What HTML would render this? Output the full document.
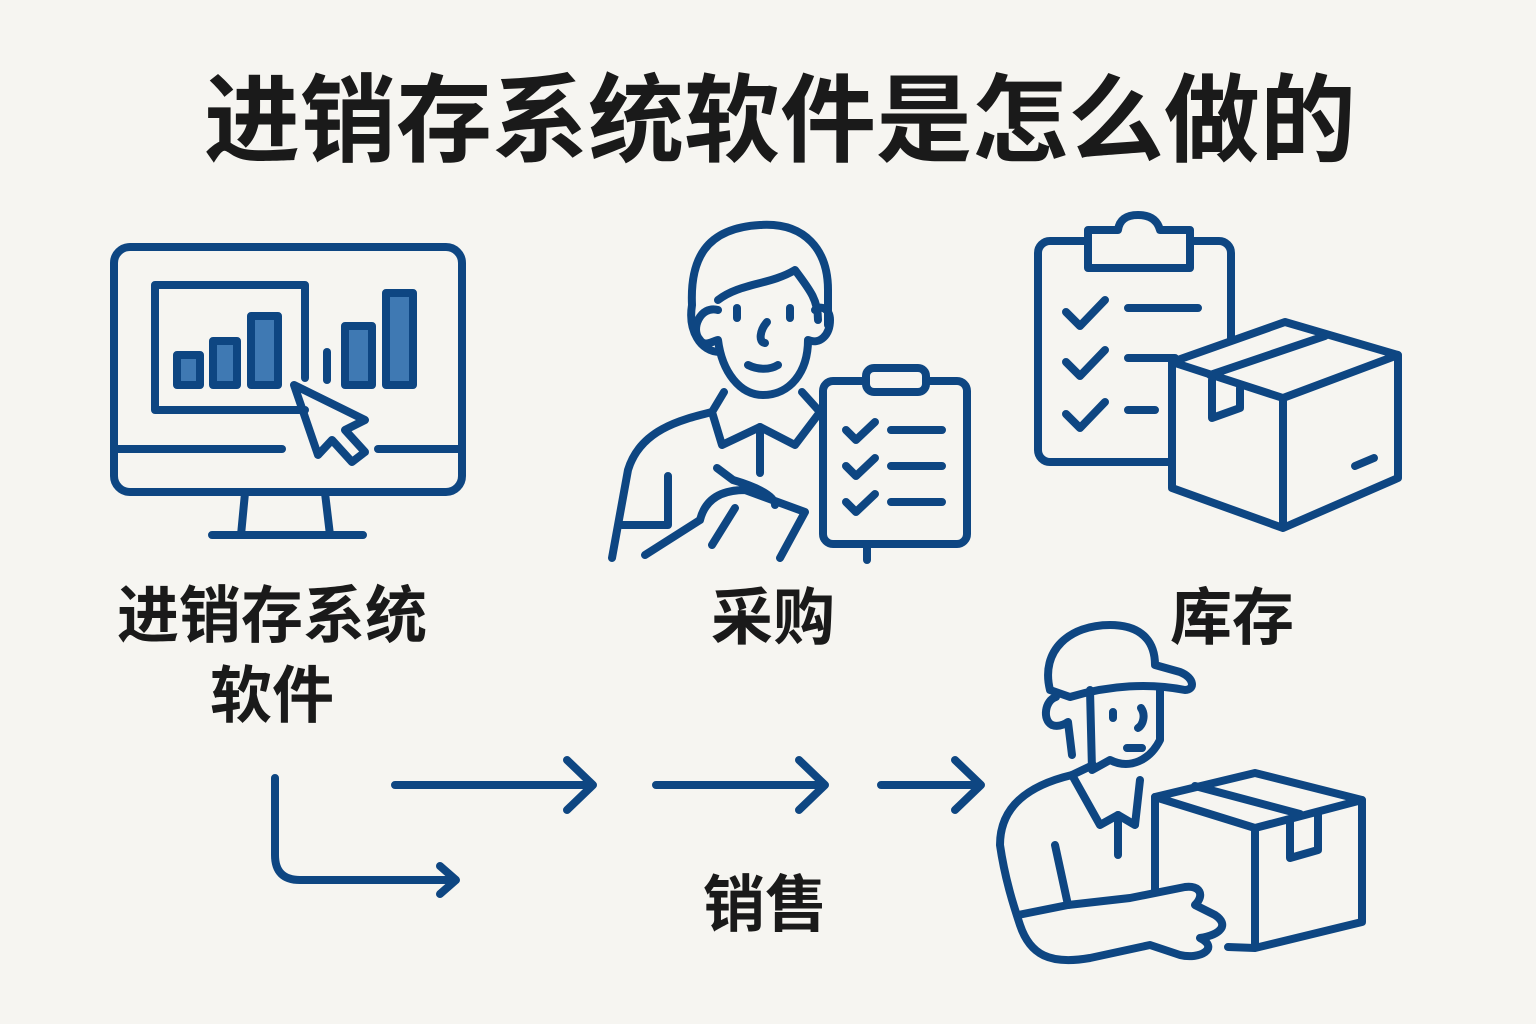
<!DOCTYPE html>
<html><head><meta charset="utf-8"><style>
html,body{margin:0;padding:0;background:#f6f5f1;}
svg{display:block}
text{font-family:"Liberation Sans","Noto Sans CJK SC",sans-serif;font-weight:bold;fill:#1a1a1a;text-anchor:middle}
</style></head><body>
<svg width="1536" height="1024" viewBox="0 0 1536 1024">
<rect width="1536" height="1024" fill="#f6f5f1"/>
<text x="780" y="154" font-size="96">进销存系统软件是怎么做的</text>
<text x="272" y="637" font-size="62">进销存系统</text>
<text x="272" y="717" font-size="62">软件</text>
<text x="773" y="639" font-size="62">采购</text>
<text x="1232" y="639" font-size="62">库存</text>
<text x="765" y="926" font-size="62">销售</text>
<g fill="none" stroke="#0e4682" stroke-width="8" stroke-linecap="round" stroke-linejoin="round">
<rect x="114" y="247" width="348" height="245" rx="16"/>
<line x1="118" y1="449" x2="282" y2="449"/><line x1="378" y1="449" x2="458" y2="449"/>
<path d="M305 410 H155 V285 H305 V378"/>
<rect x="177" y="355" width="23" height="30" fill="#3f79b3"/>
<rect x="213" y="341" width="24" height="44" fill="#3f79b3"/>
<rect x="251" y="316" width="27" height="69" fill="#3f79b3"/>
<rect x="345" y="326" width="27" height="59" fill="#3f79b3"/>
<rect x="386" y="293" width="27" height="92" fill="#3f79b3"/>
<line x1="327" y1="352" x2="327" y2="380"/>
<path d="M294 385 L365 420 L345 430 L365 452 L352 462 L332 440 L318 455 Z"/>
<path d="M245 493 L241 535 M325 493 L330 535 M212 535 H363"/>
<path d="M720 352 C700 352 688 330 692 305 C690 260 705 228 760 225 C805 222 828 250 828 290 L828 325"/>
<path d="M718 300 C740 283 770 285 795 270 C810 290 818 300 818 320"/>
<path d="M718 310 C700 305 690 330 700 340 C705 348 715 340 718 340 C722 372 740 395 763 395 C790 395 808 372 808 340 C820 345 830 335 830 320 C830 308 820 305 815 310"/>
<line x1="737" y1="308" x2="737" y2="318"/><line x1="790" y1="308" x2="790" y2="318"/>
<path d="M767 322 C760 330 758 342 765 343"/>
<path d="M748 365 C758 370 770 370 778 365"/>
<path d="M724 392 L712 412 L722 445 L760 427 L795 445 L820 412 L802 392"/>
<path d="M760 427 V473"/>
<path d="M712 412 C680 420 640 430 628 470 L612 558"/>
<path d="M668 476 V525 M622 525 H668 M645 555 L700 520"/>
<path d="M717 468 L733 480 C760 488 775 497 775 505 M700 520 C705 500 720 490 745 490 L805 512 L780 558 M712 545 L735 508"/>
<rect x="823" y="381" width="144" height="163" rx="10"/>
<rect x="866" y="368" width="60" height="24" rx="8" fill="#f6f5f1"/>
<path d="M846 430 L856 440 L875 422 M846 466 L856 476 L875 458 M846 502 L856 512 L875 494"/>
<path d="M891 430 H942 M891 466 H942 M891 502 H942 M867 546 V560"/>
<rect x="1038" y="241" width="193" height="221" rx="12"/>
<path d="M1088 268 V230 H1118 Q1120 215 1138 215 Q1156 215 1160 230 H1190 V268 Z" fill="#f6f5f1"/>
<path d="M1066 312 L1080 326 L1105 300 M1066 362 L1080 376 L1105 350 M1066 414 L1080 428 L1105 402"/>
<path d="M1128 308 H1198 M1128 358 H1175 M1128 410 H1155"/>
<path d="M1172 362 L1285 322 L1398 355 L1283 398 Z M1172 362 V488 L1283 528 V398 M1398 355 V478 L1283 528" fill="#f6f5f1"/>
<path d="M1210 375 L1325 336 M1212 380 V418 L1240 408 V388"/>
<path d="M1355 466 L1374 458"/>
<path d="M275 778 V855 Q275 880 300 880 H455 M440 866 L456 880 L440 894"/>
<path d="M395 785 H592 M567 760 L593 785 L567 810"/>
<path d="M656 785 H824 M799 760 L825 785 L799 810"/>
<path d="M881 785 H980 M955 760 L981 785 L955 810"/>
<path d="M1050 690 C1040 650 1070 625 1110 625 C1140 625 1155 640 1155 665 L1180 672 C1195 678 1195 690 1185 690 C1150 683 1110 685 1070 697 Z"/>
<path d="M1056 697 C1045 700 1042 720 1052 725 C1060 728 1068 722 1068 722 L1072 755"/>
<path d="M1090 690 L1092 770 L1110 760 C1130 770 1150 760 1160 740 L1160 687"/>
<path d="M1113 712 V718 M1141 708 C1146 715 1143 725 1138 728 M1127 748 H1142"/>
<path d="M1093 765 L1072 775 L1100 825 L1118 815 L1135 825 L1140 780"/>
<path d="M1072 775 C1030 785 1000 805 1000 845 C1005 880 1015 910 1020 925 C1030 955 1050 965 1090 958 L1150 945 L1180 955 C1200 960 1220 948 1200 938 C1220 935 1230 925 1215 915 L1195 905 C1205 895 1200 885 1185 887 L1130 898 L1068 905 L1055 845"/>
<path d="M1118 815 V855 M1018 915 L1068 905"/>
<path d="M1155 797 L1255 773 L1362 800 L1255 828 Z" fill="#f6f5f1"/>
<path d="M1155 797 V890 M1255 828 V948 L1362 922 V800 M1195 786 L1300 814 M1290 822 V858 L1318 850 V812 M1228 947 L1255 948"/>
</g>
</svg>
</body></html>
